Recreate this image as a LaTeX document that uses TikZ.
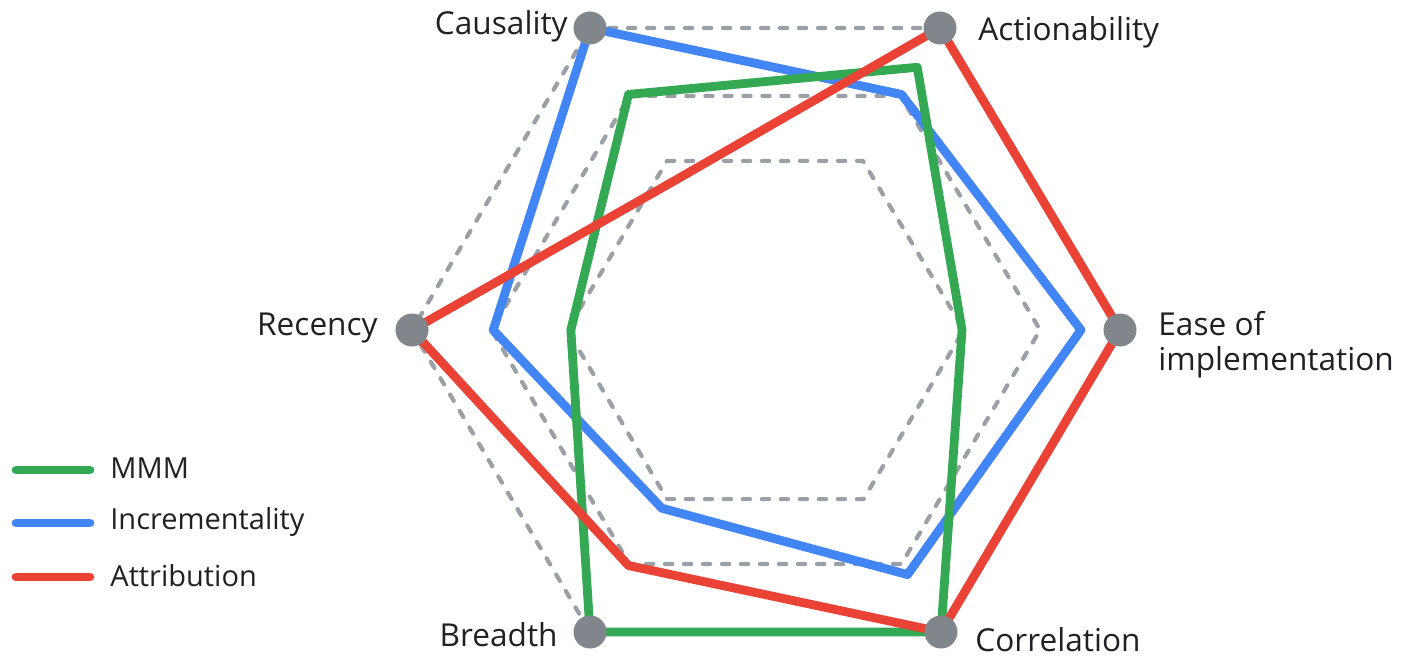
\documentclass[tikz,border=0pt]{standalone}
\usepackage{fontspec}
\setmainfont{Open Sans}
\usetikzlibrary{calc}
\definecolor{ggreen}{HTML}{34A853}
\definecolor{gblue}{HTML}{4285F4}
\definecolor{gred}{HTML}{EA4335}
\definecolor{ggrid}{HTML}{9AA0A6}
\definecolor{gdot}{HTML}{80868B}
\definecolor{gtext}{HTML}{202124}
\tikzset{
  gridline/.style={draw=ggrid, line width=2.1pt, dash pattern=on 3.6pt off 5.9pt, line cap=round, line join=round},
  series/.style={line width=4.4pt, line join=round, line cap=round},
  vdot/.style={circle, fill=gdot, minimum size=16.5pt, inner sep=0pt},
  lab/.style={text=gtext, font=\fontsize{15.8pt}{17.5pt}\selectfont, inner sep=0pt},
  leg/.style={text=gtext, font=\fontsize{14.5pt}{17pt}\selectfont, inner sep=0pt, anchor=west},
}
\newcommand\radarpoly[7]{%
  \draw[#1] ($(O)!#2!(vC)$) -- ($(O)!#3!(vA)$) -- ($(O)!#4!(vE)$) -- ($(O)!#5!(vCo)$) -- ($(O)!#6!(vB)$) -- ($(O)!#7!(vR)$) -- cycle;}
\begin{document}
\begin{tikzpicture}[x=0.5pt,y=-0.5pt]
\useasboundingbox (0,0) rectangle (1404,658);
\coordinate (O) at (765,330);
\coordinate (vC) at (590,28);
\coordinate (vA) at (940,28);
\coordinate (vE) at (1120,330);
\coordinate (vCo) at (941,632);
\coordinate (vB) at (590,632);
\coordinate (vR) at (412,330);
% grid
\radarpoly{gridline}{0.56}{0.56}{0.56}{0.56}{0.56}{0.56}
\radarpoly{gridline}{0.775}{0.775}{0.775}{0.775}{0.775}{0.775}
\radarpoly{gridline}{1}{1}{1}{1}{1}{1}
% series
\radarpoly{series, draw=gblue}{1}{0.78}{0.89}{0.81}{0.59}{0.77}
\radarpoly{series, draw=ggreen}{0.78}{0.87}{0.555}{1}{1}{0.55}
\radarpoly{series, draw=gred}{0.5}{1}{1}{1}{0.78}{1}
% vertex dots
\node[vdot] (dC) at (vC) {};
\node[vdot] (dA) at (vA) {};
\node[vdot] (dE) at (vE) {};
\node[vdot] (dCo) at (vCo) {};
\node[vdot] (dB) at (vB) {};
\node[vdot] (dR) at (vR) {};
% labels
\node[lab, anchor=east] (tC) at (568,26) {Causality};
\node[lab, anchor=west] (tA) at (978,32) {Actionability};
\node[lab, anchor=west, align=left] (tE) at (1158,345) {Ease of\\implementation};
\node[lab, anchor=east] (tR) at (378,328) {Recency};
\node[lab, anchor=east] (tB) at (558,635) {Breadth};
\node[lab, anchor=west] (tCo) at (975,640) {Correlation};
% legend
\coordinate (l1a) at (16,470); \coordinate (l1b) at (90,470);
\coordinate (l2a) at (16,523); \coordinate (l2b) at (90,523);
\coordinate (l3a) at (16,577); \coordinate (l3b) at (90,577);
\draw[series, draw=ggreen] (l1a) -- (l1b);
\draw[series, draw=gblue] (l2a) -- (l2b);
\draw[series, draw=gred] (l3a) -- (l3b);
\node[leg] (k1) at (110,468) {MMM};
\node[leg] (k2) at (110,522) {Incrementality};
\node[leg] (k3) at (110,576) {Attribution};
\end{tikzpicture}
\end{document}
